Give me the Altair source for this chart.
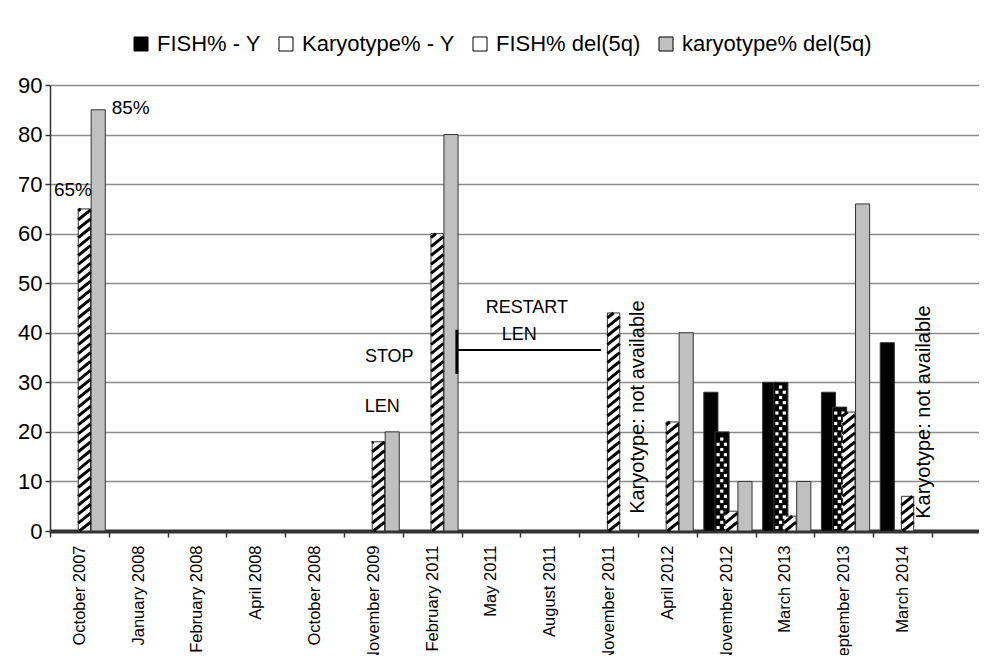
import altair as alt
import pandas as pd

# ---------------- data ----------------
categories = ["October 2007", "January 2008", "February 2008", "April 2008",
              "October 2008", "November 2009", "February 2011", "May 2011",
              "August 2011", "November 2011", "April 2012", "November 2012",
              "March 2013", "September 2013", "March 2014"]
series_names = ["FISH% - Y", "Karyotype% - Y", "FISH% del(5q)", "karyotype% del(5q)"]
fish_y      = [0, 0, 0, 0, 0, 0, 0, 0, 0, 0, 0, 28, 30, 28, 38]
karyo_y     = [0, 0, 0, 0, 0, 0, 0, 0, 0, 0, 0, 20, 30, 25, 0]
fish_del5q  = [65, 0, 0, 0, 0, 18, 60, 0, 0, 44, 22, 4, 3, 24, 7]
karyo_del5q = [85, 0, 0, 0, 0, 20, 80, 0, 0, 0, 40, 10, 10, 66, 0]

pct_labels = [("85%", 1.05, 85.3), ("65%", 0.39, 68.8)]
event_labels = [("STOP", 5.77, 35.1), ("LEN", 5.65, 25.0),
                ("RESTART", 8.11, 45.0), ("LEN", 7.98, 39.5)]
na_labels = [("Karyotype: not available", 10.0, 25.0),
             ("Karyotype: not available", 14.86, 24.0)]
bracket_h = [(6.92, 9.37, 36.5, 36.5)]
bracket_v = [(6.92, 6.92, 40.6, 31.7)]

# ---------------- layout helpers ----------------
FONT = "Liberation Sans"
series_values = [fish_y, karyo_y, fish_del5q, karyo_del5q]
slot = {0: (0.12, 0.36), 1: (0.31, 0.55), 2: (0.48, 0.69), 3: (0.70, 0.94)}

bar_rows = []
for i, cat in enumerate(categories):
    for s, vals in enumerate(series_values):
        v = vals[i]
        if v > 0:
            l, r = slot[s]
            bar_rows.append({"x": i + l, "x2": i + r, "y": v, "y0": 0,
                             "series": series_names[s], "cat": cat})
bars_df = pd.DataFrame(bar_rows)

# diagonal hatch for FISH% del(5q)
stripe_rows = []
step, rise = 1.8, 2.0
for b in bar_rows:
    if b["series"] != series_names[2]:
        continue
    xl, xr, v = b["x"], b["x2"], b["y"]
    y0 = -rise
    while y0 < v:
        t0 = max(0.0, (0 - y0) / rise)
        t1 = min(1.0, (v - y0) / rise)
        if t1 > t0:
            stripe_rows.append({"x": xl + t0 * (xr - xl), "x2": xl + t1 * (xr - xl),
                                "y": y0 + t0 * rise, "y2": y0 + t1 * rise})
        y0 += step
stripes_df = pd.DataFrame(stripe_rows)

# dotted pattern for Karyotype% - Y
dot_rows = []
for b in bar_rows:
    if b["series"] != series_names[1]:
        continue
    xl, xr, v = b["x"], b["x2"], b["y"]
    k, yy = 0, 0.7
    while yy < v - 0.4:
        fr = [0.22, 0.74] if k % 2 == 0 else [0.48]
        for f in fr:
            dot_rows.append({"x": xl + f * (xr - xl), "y": yy})
        yy += 1.05
        k += 1
dots_df = pd.DataFrame(dot_rows)

pct_df = pd.DataFrame(pct_labels, columns=["t", "x", "y"])
ev_df = pd.DataFrame(event_labels, columns=["t", "x", "y"])
na_df = pd.DataFrame(na_labels, columns=["t", "x", "y"])
bh_df = pd.DataFrame(bracket_h, columns=["x", "x2", "y", "y2"])
bv_df = pd.DataFrame(bracket_v, columns=["x", "x2", "y", "y2"])

xscale = alt.Scale(domain=[0, 15.8], nice=False, zero=False)
yscale = alt.Scale(domain=[0, 90], nice=False)

label_arr = "[" + ",".join("'" + c + "'" for c in categories) + "]"
xaxis = alt.Axis(values=list(range(16)), title=None,
                 labelExpr=f"datum.value < {len(categories)} ? {label_arr}[datum.value] : ''",
                 labelAngle=270, labelAlign="right", labelBaseline="middle",
                 labelOffset=29.4, labelFontSize=16.5, labelFont=FONT, labelColor="black",
                 labelFlush=False, labelOverlap=False, labelPadding=8,
                 tickSize=6, tickColor="#333", tickWidth=1.5,
                 domainColor="#333", domainWidth=4, grid=False)
yaxis = alt.Axis(values=list(range(0, 91, 10)), title=None, labelFontSize=22,
                 labelFont=FONT, labelColor="black", labelPadding=3,
                 tickSize=5, tickColor="#333", tickWidth=1.5,
                 domainColor="#333", domainWidth=1.5,
                 grid=True, gridColor="#8a8a8a", gridWidth=1.6)

color = alt.condition(
    "datum.series === 'Karyotype% - Y'",
    alt.value("black"),
    alt.Color("series:N",
              scale=alt.Scale(domain=series_names,
                              range=["black", "white", "white", "#c0c0c0"]),
              legend=alt.Legend(title=None, orient="none", direction="horizontal",
                                legendX=80, legendY=-52, columns=4,
                                symbolType="square", symbolSize=196,
                                symbolStrokeColor="black", symbolStrokeWidth=1,
                                labelFontSize=22, labelFont=FONT, labelColor="black",
                                labelOffset=5, labelLimit=400, columnPadding=14)),
)

bars = alt.Chart(bars_df).mark_bar(stroke="#333", strokeWidth=1).encode(
    x=alt.X("x:Q", scale=xscale, axis=xaxis),
    x2="x2:Q",
    y=alt.Y("y:Q", scale=yscale, axis=yaxis),
    y2="y0:Q",
    color=color,
)

dots = alt.Chart(dots_df).mark_square(color="white", size=10, opacity=1).encode(
    x=alt.X("x:Q", title=None), y=alt.Y("y:Q", title=None))

stripes = alt.Chart(stripes_df).mark_rule(color="black", strokeWidth=3).encode(
    x=alt.X("x:Q", title=None), x2="x2:Q", y=alt.Y("y:Q", title=None), y2="y2:Q")

pct = alt.Chart(pct_df).mark_text(font=FONT, fontSize=19, align="left",
                                  baseline="middle", color="black").encode(
    x=alt.X("x:Q", title=None), y=alt.Y("y:Q", title=None), text="t:N")
pct65 = pct.transform_filter("datum.t === '65%'").mark_text(
    font=FONT, fontSize=19, align="center", baseline="middle", color="black")
pct85 = pct.transform_filter("datum.t === '85%'")

ev = alt.Chart(ev_df).mark_text(font=FONT, fontSize=18, align="center",
                                baseline="middle", color="black").encode(
    x=alt.X("x:Q", title=None), y=alt.Y("y:Q", title=None), text="t:N")

na = alt.Chart(na_df).mark_text(font=FONT, fontSize=20, align="center",
                                baseline="middle", angle=270, color="black").encode(
    x=alt.X("x:Q", title=None), y=alt.Y("y:Q", title=None), text="t:N")

bh = alt.Chart(bh_df).mark_rule(color="black", strokeWidth=2).encode(
    x=alt.X("x:Q", title=None), x2="x2:Q", y=alt.Y("y:Q", title=None), y2="y2:Q")
bv = alt.Chart(bv_df).mark_rule(color="black", strokeWidth=3).encode(
    x=alt.X("x:Q", title=None), x2="x2:Q", y=alt.Y("y:Q", title=None), y2="y2:Q")

chart = alt.layer(bars, dots, stripes, pct85, pct65, ev, na, bh, bv).properties(
    width=929, height=446,
    padding={"left": 42, "top": 77, "right": 0, "bottom": 124},
    autosize=alt.AutoSizeParams(type="none"),
    background="white",
).configure_view(stroke=None)

chart.save("out.html", embed_options={"renderer": "svg", "actions": False})
